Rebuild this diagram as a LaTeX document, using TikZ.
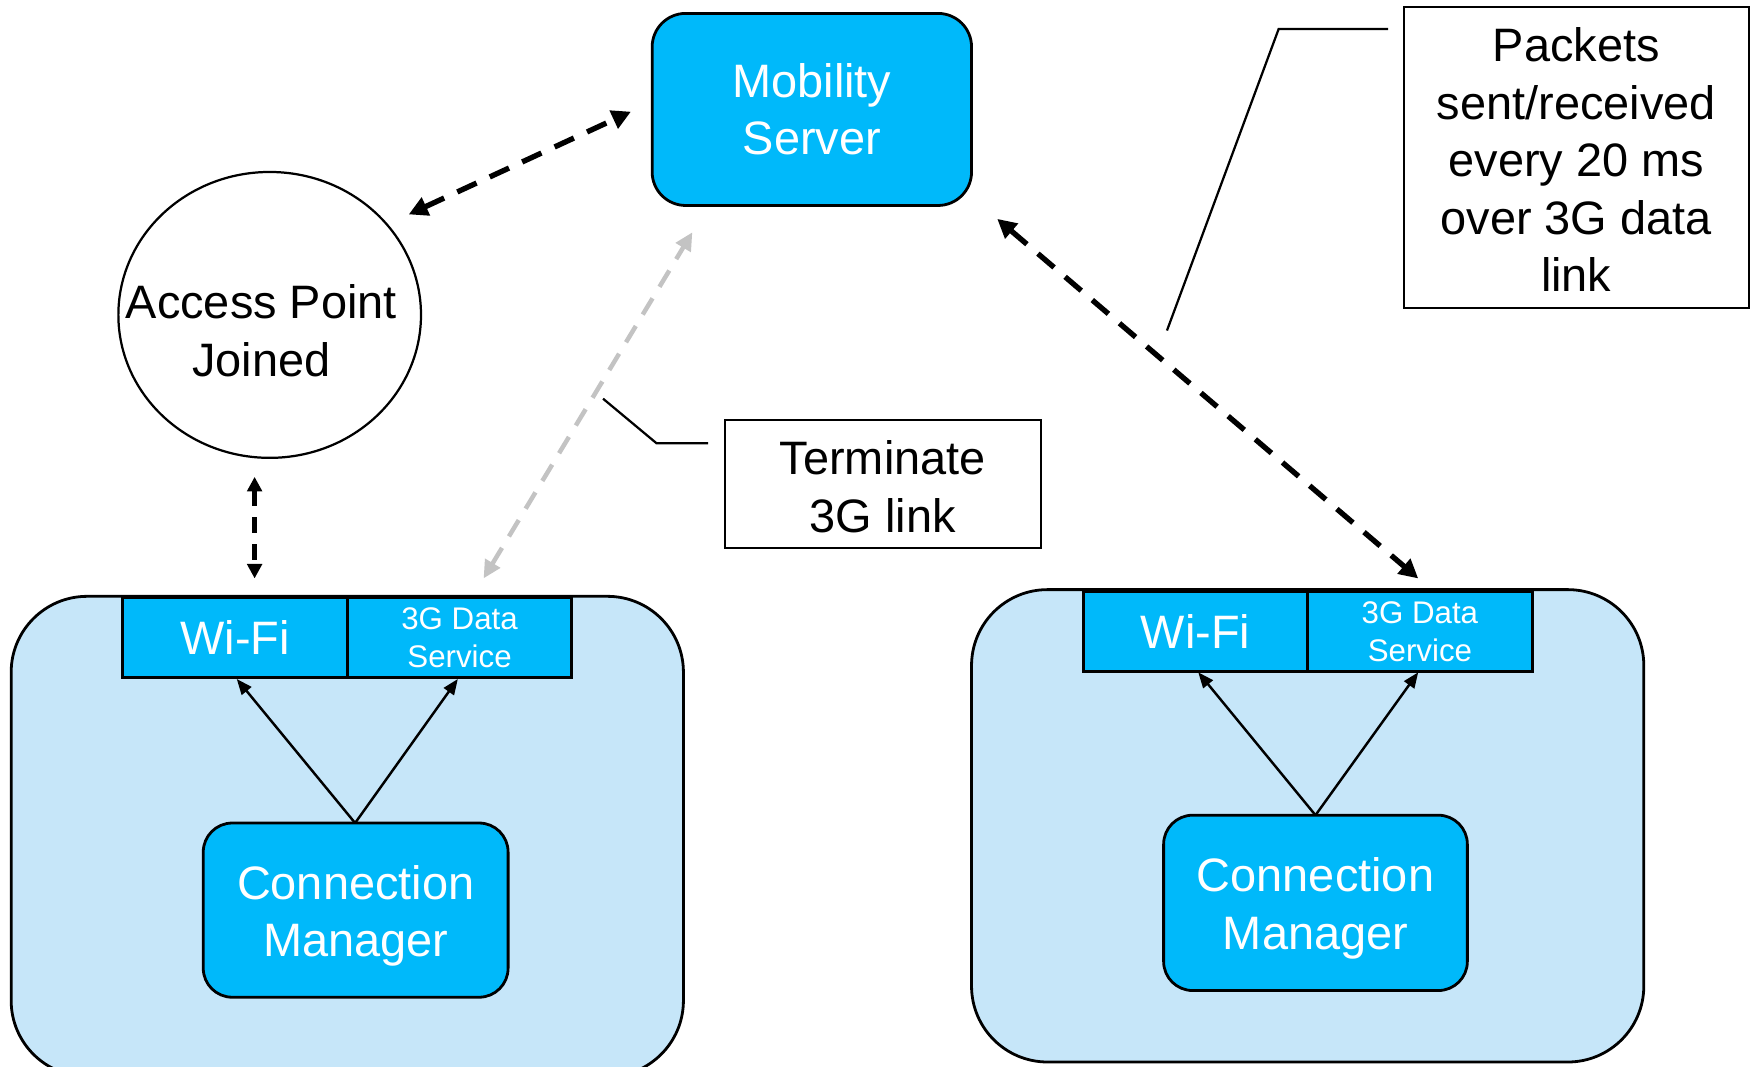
\documentclass[tikz,border=0pt]{standalone}
\usepackage{fontspec}
\setmainfont{Liberation Sans}
\usetikzlibrary{arrows.meta,shapes.geometric}
\definecolor{msblue}{RGB}{0,185,250}
\definecolor{devfill}{RGB}{198,230,249}
\definecolor{lgray}{RGB}{195,195,195}
\begin{document}
\begin{tikzpicture}[x=1pt,y=-1pt,
  bigtext/.style={font=\fontsize{42}{51.5}\selectfont, align=center},
  smalltext/.style={font=\fontsize{28}{34}\selectfont, align=center},
  bluebox/.style={draw=black, line width=2.5pt, fill=msblue, text=white, inner sep=0pt},
  devbox/.style={draw=black, line width=2.5pt, fill=devfill, rounded corners=68pt, inner sep=0pt},
  ifbox/.style={draw=black, line width=2.8pt, fill=msblue, text=white, inner sep=0pt, minimum width=201pt},
  notebox/.style={draw=black, line width=2pt, fill=white, inner sep=0pt},
  bigarrow/.style={line width=4.8pt, dash pattern=on 19pt off 13pt, {Triangle[length=17pt,width=17pt]}-{Triangle[length=17pt,width=17pt]}},
  grayarrow/.style={draw=lgray, line width=4pt, dash pattern=on 17pt off 12pt, {Triangle[length=16pt,width=15pt]}-{Triangle[length=16pt,width=15pt]}},
  smallarrow/.style={line width=4.5pt, dash pattern=on 14pt off 10pt, {Triangle[length=13pt,width=13pt]}-{Triangle[length=13pt,width=13pt]}},
  thinarrow/.style={line width=2.2pt, -{Triangle[length=14pt,width=11pt]}},
  callout/.style={line width=2pt}
]
\clip (0,0) rectangle (1568,955);
\fill[white] (0,0) rectangle (1568,955);

% device boxes
\node[devbox, minimum width=602pt, minimum height=430pt] (devL) at (311,749) {};
\node[devbox, minimum width=602pt, minimum height=423pt] (devR) at (1171,739.5) {};

% interface boxes
\node[ifbox, minimum height=72pt, bigtext] (wifiL) at (210.5,571) {Wi-Fi};
\node[ifbox, minimum height=72pt, smalltext] (tgL) at (411.5,571) {3G Data\\Service};
\node[ifbox, minimum height=71pt, bigtext] (wifiR) at (1070.5,565.5) {Wi-Fi};
\node[ifbox, minimum height=71pt, smalltext] (tgR) at (1271.5,565.5) {3G Data\\Service};

% connection managers
\node[bluebox, rounded corners=26pt, minimum width=273pt, minimum height=156pt,
  label={[bigtext, text=white, inner sep=0pt, yshift=-5pt]center:{Connection\\Manager}}] (cmL) at (318.5,815) {};
\node[bluebox, rounded corners=26pt, minimum width=272pt, minimum height=157pt,
  label={[bigtext, text=white, inner sep=0pt, yshift=-5pt]center:{Connection\\Manager}}] (cmR) at (1178,808.5) {};

% mobility server
\node[bluebox, rounded corners=30pt, minimum width=286pt, minimum height=172pt, bigtext] (ms) at (727,98) {Mobility\\Server};

% access point
\node[draw=black, line width=2pt, ellipse, minimum width=271pt, minimum height=256pt, inner sep=0pt] (ap) at (241.5,282) {};
\node[bigtext, inner sep=0pt] (aptext) at (234,296) {Access Point\\Joined};

% note boxes
\node[notebox, minimum width=283pt, minimum height=115pt,
  label={[bigtext, inner sep=0pt, yshift=-2.5pt]center:{Terminate\\3G link}}] (term) at (790.5,433.5) {};
\node[notebox, minimum width=309pt, minimum height=270pt,
  label={[bigtext, inner sep=0pt, yshift=-2pt]center:{Packets\\sent/received\\every 20 ms\\over 3G data\\link}}] (pack) at (1411.5,141) {};

% arrow end coordinates
\coordinate (a1) at (366,192);
\coordinate (a2) at (565,100);
\coordinate (g1) at (433,518);
\coordinate (g2) at (620,208);
\coordinate (r1) at (893,196);
\coordinate (r2) at (1270,518);
\coordinate (v1) at (228,427);
\coordinate (v2) at (228,518);
\coordinate (cL) at (318,737);
\coordinate (wL) at (212,608);
\coordinate (tL) at (410,608);
\coordinate (cR) at (1178,730);
\coordinate (wR) at (1073,602);
\coordinate (tR) at (1270,602);
\coordinate (p1) at (1243,26);
\coordinate (p2) at (1145,26);
\coordinate (p3) at (1045,296);
\coordinate (t1) at (634,397);
\coordinate (t2) at (588,397);
\coordinate (t3) at (540,357);

% connectors
\draw[bigarrow] (a1) -- (a2);
\draw[grayarrow] (g1) -- (g2);
\draw[bigarrow] (r1) -- (r2);
\draw[smallarrow] (v1) -- (v2);
\draw[thinarrow] (cL) -- (wL);
\draw[thinarrow] (cL) -- (tL);
\draw[thinarrow] (cR) -- (wR);
\draw[thinarrow] (cR) -- (tR);
\draw[callout] (p1) -- (p2) -- (p3);
\draw[callout] (t1) -- (t2) -- (t3);
\end{tikzpicture}
\end{document}
